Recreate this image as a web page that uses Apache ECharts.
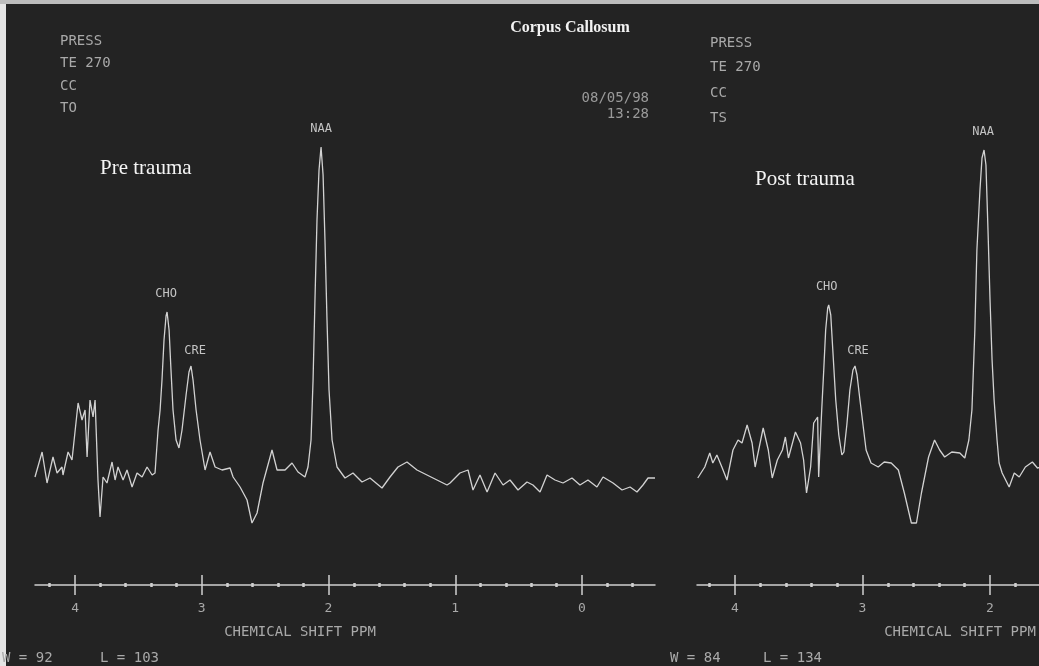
<!DOCTYPE html>
<html>
<head>
<meta charset="utf-8">
<script src="https://cdn.jsdelivr.net/npm/echarts@6/dist/echarts.min.js"></script>
<style>
html,body{margin:0;padding:0;background:#232323;}
#c{width:1039px;height:666px;}
</style>
</head>
<body>
<div id="c"></div>
<script>
// ---- Pre trauma spectrum (chemical shift ppm, signal amplitude a.u.) ----
const ppmPre = [4.316,4.260,4.221,4.174,4.142,4.103,4.095,4.055,4.024,3.976,3.945,3.921,3.905,3.882,3.858,3.842,3.819,3.803,3.779,3.748,3.708,3.684,3.661,3.621,3.590,3.550,3.511,3.471,3.432,3.392,3.369,3.345,3.329,3.314,3.298,3.282,3.274,3.258,3.243,3.227,3.203,3.180,3.156,3.124,3.101,3.085,3.069,3.045,3.014,2.974,2.935,2.895,2.840,2.777,2.753,2.698,2.643,2.604,2.564,2.517,2.446,2.406,2.343,2.288,2.241,2.186,2.162,2.138,2.122,2.107,2.091,2.075,2.059,2.043,2.028,2.012,1.996,1.972,1.933,1.870,1.807,1.736,1.673,1.578,1.515,1.452,1.381,1.302,1.223,1.144,1.065,1.041,0.963,0.899,0.860,0.805,0.749,0.686,0.623,0.568,0.505,0.434,0.387,0.331,0.276,0.213,0.150,0.079,0.016,-0.047,-0.118,-0.166,-0.245,-0.316,-0.379,-0.434,-0.481,-0.521,-0.576];
const ampPre = [3,28,-3,23,7,13,5,28,20,77,60,70,23,80,63,80,0,-37,3,-3,18,0,13,0,10,-7,7,3,13,5,7,50,70,100,140,164,168,150,110,70,40,32,50,85,108,114,100,70,40,10,28,13,10,12,3,-7,-20,-43,-33,-3,30,10,10,17,8,3,13,40,100,180,260,310,333,305,240,160,90,40,13,2,7,-2,2,-8,3,13,18,10,5,0,-5,-3,7,10,-10,5,-12,7,-5,0,-10,-2,-5,-12,5,0,-3,2,-5,0,-7,3,-3,-10,-7,-12,-5,2,2];

// ---- Post trauma spectrum ----
const ppmPost = [4.292,4.237,4.198,4.174,4.142,4.103,4.063,4.016,3.976,3.945,3.905,3.866,3.842,3.779,3.739,3.708,3.668,3.628,3.605,3.581,3.526,3.486,3.462,3.439,3.407,3.383,3.352,3.344,3.320,3.304,3.289,3.273,3.265,3.249,3.233,3.210,3.186,3.162,3.146,3.123,3.099,3.075,3.059,3.043,3.020,2.996,2.972,2.933,2.877,2.830,2.775,2.719,2.672,2.617,2.577,2.538,2.482,2.435,2.395,2.356,2.300,2.237,2.198,2.166,2.142,2.119,2.103,2.079,2.063,2.047,2.032,2.016,2.000,1.984,1.968,1.945,1.929,1.905,1.850,1.810,1.771,1.723,1.668,1.628,1.597];
const ampPost = [2,13,27,17,25,13,0,30,40,37,55,37,13,52,30,2,20,30,43,22,48,37,20,-13,13,57,63,3,70,110,150,172,175,165,130,80,45,25,28,55,90,110,114,105,80,55,30,17,13,18,17,10,-13,-43,-43,-13,23,40,30,23,28,27,22,40,70,150,230,290,322,330,315,250,180,120,80,40,17,7,-7,7,3,13,18,12,13];

// ---- peak annotations ----
const peakNames = ['CHO','CRE','NAA'];
const peakPpmPre = [3.274,3.085,2.059];
const peakAmpPre = [168,114,333];
const peakPpmPost = [3.265,3.059,2.047];
const peakAmpPost = [175,114,330];

// ---- axis ticks ----
const majorTicksPre = [4,3,2,1,0];
const majorTicksPost = [4,3,2];

const monoFont = '"DejaVu Sans Mono", "Liberation Mono", monospace';
const serifFont = '"Liberation Serif", "DejaVu Serif", serif';
const traceColor = '#d2d2d2';
const axisColor = '#cfcfcf';
const textGrey = '#a9a9a9';

function minorTicks(lo, hi) {
  const out = [];
  for (let k = Math.ceil(lo * 5); k <= Math.floor(hi * 5); k++) {
    if (k % 5 !== 0) out.push(+(k / 5).toFixed(1));
  }
  return out;
}

const ranges = [
  {min: -0.576, max: 4.316, major: majorTicksPre},
  {min: 1.616, max: 4.298, major: majorTicksPost}
];

const xAxes = [];
ranges.forEach((r, g) => {
  const base = {type: 'value', gridIndex: g, min: r.min, max: r.max, inverse: true, position: 'bottom', splitLine: {show: false}};
  xAxes.push(Object.assign({}, base, {
    axisLine: {show: true, onZero: false, lineStyle: {color: axisColor, width: 1.5}},
    axisTick: {show: true, customValues: r.major, length: 10, lineStyle: {color: axisColor, width: 1.5}},
    axisLabel: {show: true, customValues: r.major, color: textGrey, fontFamily: monoFont, fontSize: 13, margin: 17}
  }));
  xAxes.push(Object.assign({}, base, {
    axisLine: {show: false, onZero: false},
    axisTick: {show: true, inside: true, customValues: r.major, length: 10, lineStyle: {color: axisColor, width: 1.5}},
    axisLabel: {show: false}
  }));
  const mt = minorTicks(r.min, r.max);
  xAxes.push(Object.assign({}, base, {
    axisLine: {show: false, onZero: false},
    axisTick: {show: true, customValues: mt, length: 2, lineStyle: {color: axisColor, width: 2.5}},
    axisLabel: {show: false}
  }));
  xAxes.push(Object.assign({}, base, {
    axisLine: {show: false, onZero: false},
    axisTick: {show: true, inside: true, customValues: mt, length: 2, lineStyle: {color: axisColor, width: 2.5}},
    axisLabel: {show: false}
  }));
});

function peakMarks(ppm, amp, offsets) {
  return {
    symbol: 'circle', symbolSize: 1, silent: true,
    itemStyle: {color: 'rgba(0,0,0,0)'},
    label: {show: true, position: 'top', distance: 12, color: '#c4c4c4', fontFamily: monoFont, fontSize: 12,
      formatter: p => p.name},
    data: peakNames.map((n, i) => ({name: n, coord: [ppm[i], amp[i]], label: {offset: offsets[i]}}))
  };
}

function txt(text, x, y, opts) {
  return {type: 'text', x: x, y: y, silent: true,
    style: Object.assign({text: text, fill: textGrey, font: '14px ' + monoFont, textAlign: 'left', textVerticalAlign: 'middle'}, opts || {})};
}

const option = {
  backgroundColor: '#232323',
  animation: false,
  grid: [
    {left: 35, top: 100, width: 620, height: 485},
    {left: 697, top: 100, width: 342, height: 485}
  ],
  xAxis: xAxes,
  yAxis: [
    {type: 'value', gridIndex: 0, min: -105, max: 380, show: false},
    {type: 'value', gridIndex: 1, min: -105, max: 380, show: false}
  ],
  series: [
    {type: 'line', xAxisIndex: 0, yAxisIndex: 0, data: ppmPre.map((p, i) => [p, ampPre[i]]),
      showSymbol: false, lineStyle: {color: traceColor, width: 1.3}, markPoint: peakMarks(peakPpmPre, peakAmpPre, [[-1, 0], [4, 3], [0, 0]])},
    {type: 'line', xAxisIndex: 4, yAxisIndex: 1, data: ppmPost.map((p, i) => [p, ampPost[i]]),
      showSymbol: false, lineStyle: {color: traceColor, width: 1.3}, markPoint: peakMarks(peakPpmPost, peakAmpPost, [[-2, 0], [3, 3], [-1, 0]])}
  ],
  graphic: [
    {type: 'rect', shape: {x: 0, y: 0, width: 6, height: 666}, style: {fill: '#e4e4e4'}, silent: true},
    {type: 'rect', shape: {x: 0, y: 0, width: 1039, height: 4}, style: {fill: '#bcbcbc'}, silent: true},
    txt('PRESS', 60, 41), txt('TE 270', 60, 63), txt('CC', 60, 86), txt('TO', 60, 108),
    txt('PRESS', 710, 43), txt('TE 270', 710, 67), txt('CC', 710, 93), txt('TS', 710, 118),
    txt('08/05/98', 649, 98, {textAlign: 'right', fill: '#9a9a9a'}),
    txt('13:28', 649, 114, {textAlign: 'right', fill: '#9a9a9a'}),
    txt('Corpus Callosum', 570, 28, {textAlign: 'center', fill: '#f2f2f2', font: 'bold 16px ' + serifFont}),
    txt('Pre trauma', 100, 168, {fill: '#f4f4f4', font: '21px ' + serifFont}),
    txt('Post trauma', 755, 179, {fill: '#f4f4f4', font: '21px ' + serifFont}),
    txt('CHEMICAL SHIFT PPM', 300, 632, {textAlign: 'center'}),
    txt('CHEMICAL SHIFT PPM', 960, 632, {textAlign: 'center'}),
    txt('W = 92', 2, 658), txt('L = 103', 100, 658),
    txt('W = 84', 670, 658), txt('L = 134', 763, 658)
  ]
};

const chart = echarts.init(document.getElementById('c'), null, {renderer: 'canvas'});
chart.setOption(option);
</script>
</body>
</html>
